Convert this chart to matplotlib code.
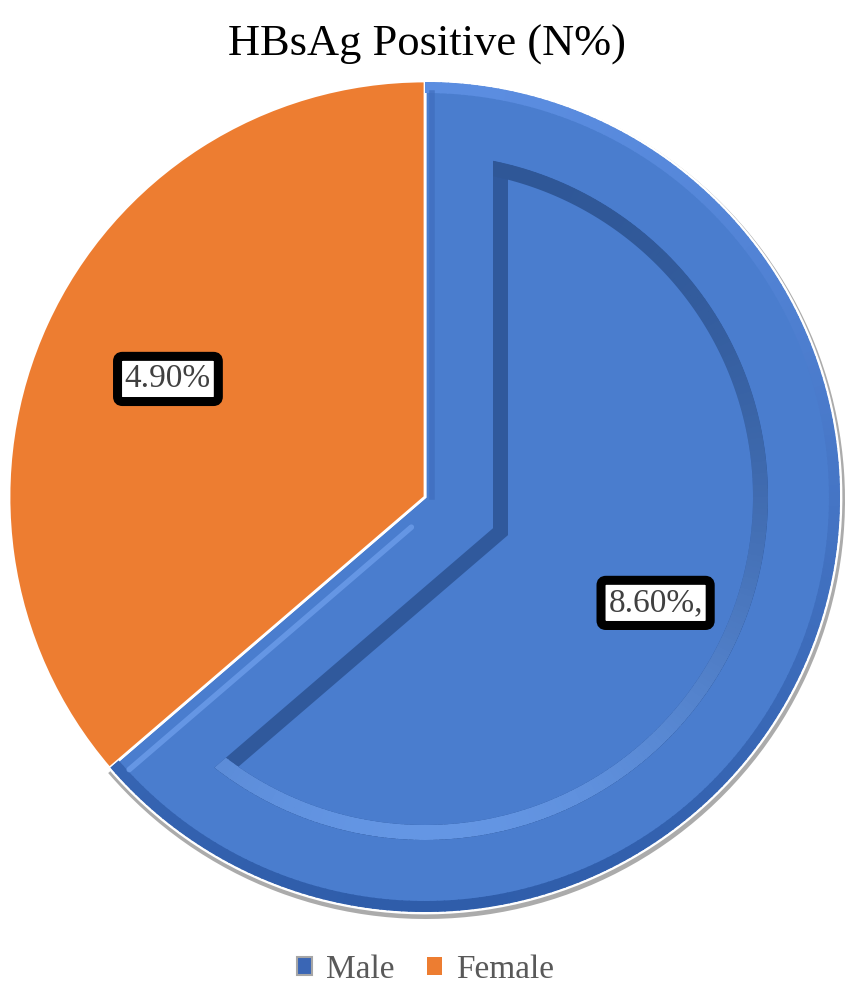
import numpy as np
import matplotlib.pyplot as plt
from matplotlib.patches import Wedge, Polygon, Patch
from matplotlib.colors import to_rgb

# data
labels = ["Male", "Female"]
values = [8.60, 4.90]
value_text = ["8.60%,", "4.90%"]
colors = ["#4A7DCE", "#ED7D31"]
label_dist = [0.61, 0.68]

W, H = 851, 992
cx, cy, R = 425, 495, 416

plt.rcParams['font.family'] = ['Liberation Serif', 'DejaVu Serif']

fig = plt.figure(figsize=(W / 100, H / 100), dpi=100)
ax = fig.add_axes([0, 0, 1, 1])

wedges, _ = ax.pie(values, colors=colors, startangle=90, counterclock=False,
                   center=(cx, cy), radius=R, frame=True,
                   wedgeprops=dict(edgecolor="white", linewidth=2))
ax.set_xlim(0, W)
ax.set_ylim(0, H)
ax.set_aspect('equal')
ax.axis('off')

male = wedges[0]
a1, a2 = male.theta1, male.theta2

# soft grey shadow behind the male slice
ax.add_patch(Wedge((cx + 1, cy - 3), R + 3, a1, a2, facecolor="#ABABAB",
                   edgecolor="none", zorder=0.5))


def mix(c1, c2, w):
    c1, c2 = np.array(to_rgb(c1)), np.array(to_rgb(c2))
    return tuple(c1 * (1 - w) + c2 * w)


def inset_shape(d, rho, n=300):
    # male wedge shrunk by d on the straight edges and to radius rho on the arc
    t1, t2 = np.radians(a1), np.radians(a2)
    n1 = np.array([-np.sin(t1), np.cos(t1)])
    n2 = np.array([np.sin(t2), -np.cos(t2)])
    V = np.linalg.solve(np.array([n1, n2]), np.array([d, d]))

    def hit(u):
        b = V @ u
        c = V @ V - rho ** 2
        return V + (-b + np.sqrt(b * b - c)) * u

    P2 = hit(np.array([np.cos(t2), np.sin(t2)]))
    P1 = hit(np.array([np.cos(t1), np.sin(t1)]))
    b2 = np.arctan2(P2[1], P2[0])
    b1 = np.arctan2(P1[1], P1[0])
    if b1 > b2:
        b1 -= 2 * np.pi
    angs = np.linspace(b2, b1, n)
    arc = rho * np.c_[np.cos(angs), np.sin(angs)]
    pts = np.vstack([V, arc]) + [cx, cy]
    return pts, np.degrees(b1), np.degrees(b2)


# outer rim shading (light on top, darker at bottom)
for a in np.arange(a1, a2, 1.0):
    w = (1 - np.sin(np.radians(a + 0.5))) / 2
    p = Wedge((cx, cy), R - 1, a, min(a + 1.2, a2), width=11,
              facecolor=mix("#5B8DE0", "#2F5DAA", w), edgecolor="none", zorder=2)
    ax.add_patch(p)
    p.set_clip_path(male)

# light / dark lines along the straight edges
t1 = np.radians(a1)
u1 = np.array([np.cos(t1), np.sin(t1)])
n1 = np.array([-np.sin(t1), np.cos(t1)])
seg = np.array([cx, cy]) + n1 * 14 + np.outer(np.linspace(30, R - 14, 2), u1)
ln = ax.plot(seg[:, 0], seg[:, 1], color="#6D9DEA", lw=4, alpha=0.8, zorder=2,
             solid_capstyle="round")[0]
ln.set_clip_path(male)
seg = np.array([cx, cy]) + np.array([7, 0]) + np.outer(np.linspace(0, R - 12, 2), [0, 1])
ln = ax.plot(seg[:, 0], seg[:, 1], color="#3F6DBD", lw=4, alpha=0.7, zorder=2)[0]
ln.set_clip_path(male)

# inner bevel band
outer_pts, b1, b2 = inset_shape(68, 343)
band = Polygon(outer_pts, closed=True, facecolor="#30599C", edgecolor="none", zorder=3)
ax.add_patch(band)
for a in np.arange(b1, b2, 1.0):
    w = np.clip((1 - np.sin(np.radians(a + 0.5))) / 2, 0, 1) ** 1.6
    p = Wedge((cx, cy), 343, a, min(a + 1.2, b2), width=15,
              facecolor=mix("#2F5797", "#6496E4", w), edgecolor="none", zorder=3)
    ax.add_patch(p)
    p.set_clip_path(band)
inner_pts, _, _ = inset_shape(83, 328)
ax.add_patch(Polygon(inner_pts, closed=True, facecolor=colors[0], edgecolor="none", zorder=4))

# value labels
for wd, txt, dist in zip(wedges, value_text, label_dist):
    mid = np.radians((wd.theta1 + wd.theta2) / 2)
    ax.text(cx + dist * R * np.cos(mid), cy + dist * R * np.sin(mid), txt,
            ha="center", va="center", fontsize=24, color="#404040", zorder=6,
            bbox=dict(boxstyle="round,pad=0.22,rounding_size=0.15", facecolor="white",
                      edgecolor="black", linewidth=6.5))

ax.text(W / 2 + 2, H - 56, "HBsAg Positive (N%)", ha="center", va="baseline",
        fontsize=32, color="black")

handles = [Patch(facecolor="#3A66B5", edgecolor="#A6A6A6", linewidth=1.5, label=labels[0]),
           Patch(facecolor=colors[1], edgecolor="none", label=labels[1])]
leg = ax.legend(handles=handles, loc="center", bbox_to_anchor=(0.5, 22 / H), ncol=2,
                frameon=False, fontsize=24, handlelength=0.45, handleheight=0.45,
                handletextpad=0.4, columnspacing=1.0)
for t in leg.get_texts():
    t.set_color("#595959")

fig.savefig("out.png", dpi=100)
